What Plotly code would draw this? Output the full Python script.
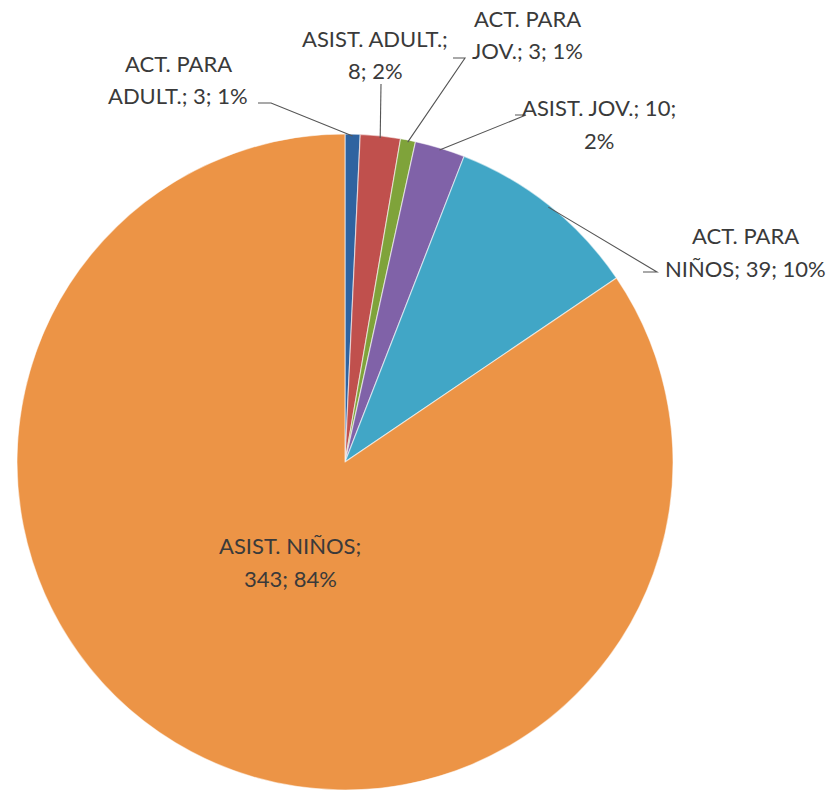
import math
import plotly.graph_objects as go

# ---- data ----
categories = ["ACT. PARA ADULT.", "ASIST. ADULT.", "ACT. PARA JOV.", "ASIST. JOV.",
              "ACT. PARA NIÑOS", "ASIST. NIÑOS"]
values = [3, 8, 3, 10, 39, 343]
colors = ["#2F63A0", "#C0504D", "#7FA33A", "#8062A8", "#41A6C6", "#EC9446"]
first_line_words = [2, 2, 2, 3, 2, 2]

W, H = 834, 792
CX, CY, R = 345, 462, 328

# label layout: (center x of text, y of line 1, y of line 2)
label_pos = [(178, 63, 95), (375, 38, 70), (527, 18, 50), (599, 107, 140),
             (745, 235, 268), (290, 545, 578)]
# leader line: (end x, end y, elbow x) ; None for inside label
leaders = [(258, 103, 271), (381, 84, 381), (453, 58, 465), (515, 115, 526),
           (643, 272, 657), None]

total = sum(values)

fig = go.Figure()
fig.add_trace(go.Pie(
    labels=categories, values=values, sort=False, direction="clockwise",
    rotation=0, textinfo="none", hoverinfo="label+value+percent",
    marker=dict(colors=colors, line=dict(color="rgba(255,255,255,0.55)", width=1.2)),
    domain=dict(x=[(CX - R) / W, (CX + R) / W], y=[1 - (CY + R) / H, 1 - (CY - R) / H]),
    showlegend=False,
))

# invisible pixel-space axes for labels & leaders
fig.add_trace(go.Scatter(x=[0, W], y=[0, H], mode="markers", marker=dict(opacity=0),
                         hoverinfo="skip", showlegend=False))

shapes = []
annotations = []
cum = 0
for i, (cat, v) in enumerate(zip(categories, values)):
    pct = round(v / total * 100)
    text = f"{cat}; {v}; {pct}%"
    words = text.split(" ")
    n = first_line_words[i]
    lines = [" ".join(words[:n]), " ".join(words[n:])]
    tx, y1, y2 = label_pos[i]
    for ln, yy in zip(lines, (y1, y2)):
        annotations.append(dict(x=tx, y=yy, xref="x", yref="y", text=ln, showarrow=False,
                                xanchor="center", yanchor="middle",
                                font=dict(family="Lato, Carlito, sans-serif", size=22,
                                          color="#3A3A3A")))
    theta = 2 * math.pi * (cum + v / 2) / total
    cum += v
    if leaders[i] is not None:
        ex, ey, elx = leaders[i]
        tipx = CX + (R - 2) * math.sin(theta)
        tipy = CY - (R - 2) * math.cos(theta)
        shapes.append(dict(type="path", xref="x", yref="y",
                           path=f"M {ex} {ey} L {elx} {ey} L {tipx:.1f} {tipy:.1f}"
                           if elx != ex else f"M {ex} {ey} L {tipx:.1f} {tipy:.1f}",
                           line=dict(color="#555555", width=1.1)))

fig.update_layout(
    width=W, height=H, margin=dict(l=0, r=0, t=0, b=0),
    paper_bgcolor="white", plot_bgcolor="rgba(0,0,0,0)",
    xaxis=dict(visible=False, range=[0, W], domain=[0, 1], fixedrange=True),
    yaxis=dict(visible=False, range=[H, 0], domain=[0, 1], fixedrange=True),
    shapes=shapes, annotations=annotations,
)

fig.write_html("out.html", config={"displayModeBar": False},
               post_script="document.body.style.margin='0px';")
